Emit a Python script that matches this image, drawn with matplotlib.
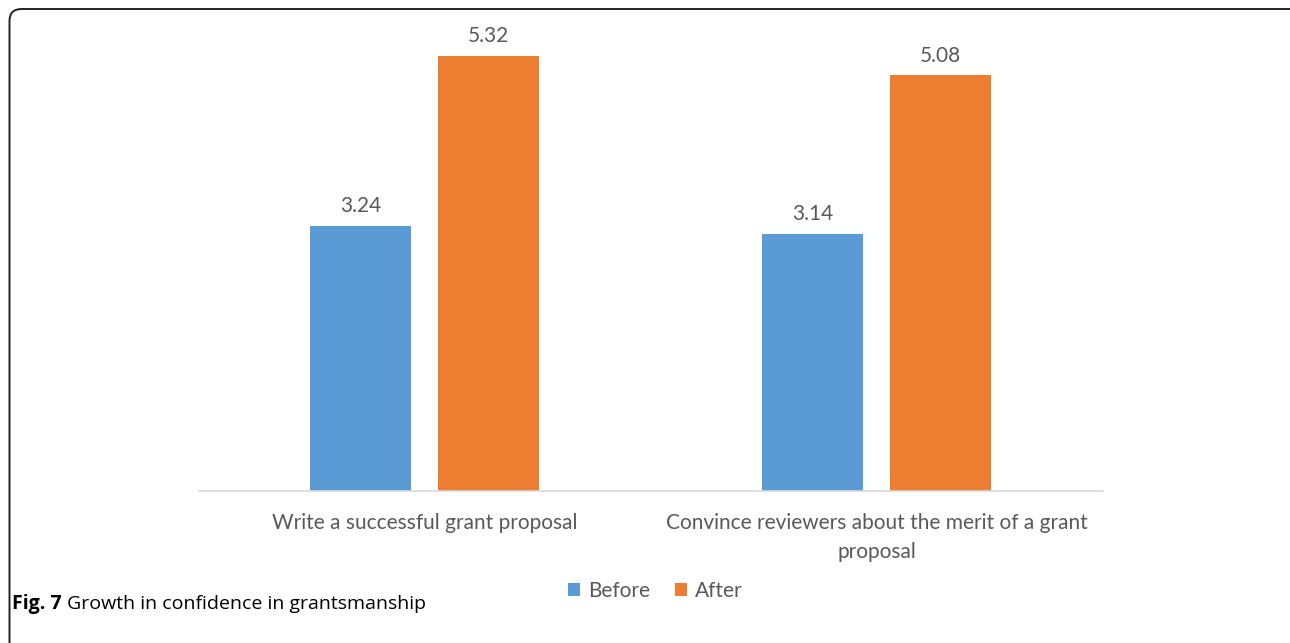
import matplotlib.pyplot as plt
import numpy as np
from matplotlib.patches import FancyBboxPatch

categories = ["Write a successful grant proposal",
              "Convince reviewers about the merit of a grant\nproposal"]
series_names = ["Before", "After"]
before = [3.24, 3.14]
after = [5.32, 5.08]

blue = "#5B9BD5"
orange = "#ED7D31"
textGrey = "#595959"
chartFont = ["Lato", "DejaVu Sans"]

fig = plt.figure(figsize=(12.9, 6.43), dpi=100)
ax = fig.add_axes([0.1539, 0.2364, 0.7008, 0.7636])

x = np.arange(len(categories))
barWidth = 0.223
offset = 0.1416
bars1 = ax.bar(x - offset, before, barWidth, color=blue, label=series_names[0])
bars2 = ax.bar(x + offset, after, barWidth, color=orange, label=series_names[1])

# value labels above each bar
for bars, vals in [(bars1, before), (bars2, after)]:
    for b, v in zip(bars, vals):
        ax.annotate(f"{v:.2f}", (b.get_x() + b.get_width() / 2, v),
                    xytext=(0, 7), textcoords="offset points",
                    ha="center", va="bottom", fontsize=15,
                    color=textGrey, family=chartFont)

ax.set_xlim(-0.5, 1.5)
ax.set_ylim(0, 6)
for s in ["top", "right", "left"]:
    ax.spines[s].set_visible(False)
ax.spines["bottom"].set_color("#D9D9D9")
ax.spines["bottom"].set_linewidth(1.2)
ax.set_yticks([])
ax.set_xticks(x)
ax.set_xticklabels(categories, fontsize=15, color=textGrey,
                   family=chartFont, linespacing=1.55)
ax.tick_params(axis="x", length=0, pad=16)

fig.legend(handles=[bars1, bars2], labels=series_names, loc="center",
           bbox_to_anchor=(655 / 1290, 1 - 591 / 643), ncol=2, frameon=False,
           prop={"family": chartFont, "size": 15}, labelcolor=textGrey,
           handlelength=0.6, handleheight=0.6, handletextpad=0.35,
           columnspacing=1.2)

# caption
capY = 1 - 604 / 643
t1 = fig.text(12 / 1290, capY, "Fig. 7", fontsize=14, fontweight="bold",
              family=["Open Sans", "DejaVu Sans"], va="center", ha="left")
fig.canvas.draw()
bb = t1.get_window_extent()
fig.text((bb.x1 + 5) / 1290, capY, "Growth in confidence in grantsmanship",
         fontsize=14, family=["Open Sans", "DejaVu Sans"], va="center", ha="left")

# frame with rounded top-left corner
frame = FancyBboxPatch((0.095, -1.0), 13.2, 7.34,
                       boxstyle="round,pad=0,rounding_size=0.12",
                       transform=fig.dpi_scale_trans, fill=False,
                       edgecolor="#222222", linewidth=1.4)
fig.add_artist(frame)

fig.savefig("out.png", dpi=100)
